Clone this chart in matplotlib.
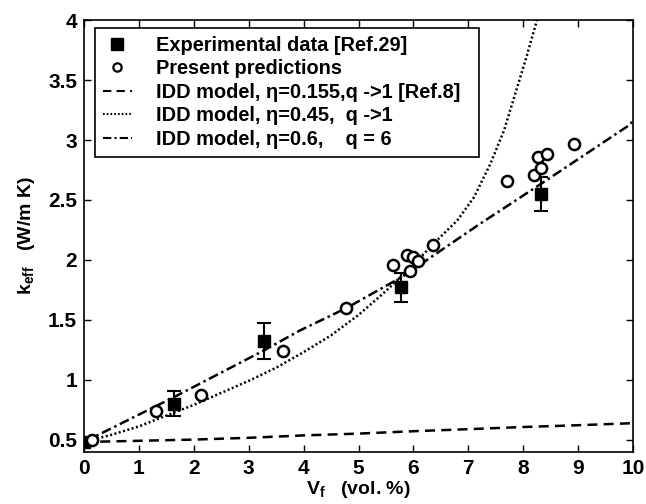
import numpy as np
import matplotlib
matplotlib.use("Agg")
import matplotlib.pyplot as plt
from matplotlib.lines import Line2D

plt.rcParams['font.family'] = ['Liberation Sans', 'DejaVu Sans']
plt.rcParams['font.weight'] = 'bold'
plt.rcParams['mathtext.default'] = 'regular'

# experimental data [Ref.29]
exp_x = [0.0, 1.64, 3.27, 5.78, 8.32]
exp_y = [0.48, 0.80, 1.32, 1.77, 2.55]
exp_err = [0.0, 0.105, 0.15, 0.12, 0.14]

# present predictions
pred_x = [0.15, 1.32, 2.14, 3.63, 4.78, 5.62, 5.89, 5.93, 5.99, 6.09, 6.35,
          7.70, 8.20, 8.32, 8.26, 8.43, 8.93]
pred_y = [0.50, 0.74, 0.87, 1.24, 1.60, 1.96, 2.04, 1.91, 2.02, 1.99, 2.12,
          2.66, 2.71, 2.77, 2.86, 2.88, 2.97]

# IDD model, eta=0.155, q->1
idd1_x = [0, 1, 2, 3, 4, 5, 6, 7, 8, 9, 10]
idd1_y = [0.48, 0.49, 0.50, 0.515, 0.535, 0.55, 0.57, 0.587, 0.605, 0.62, 0.637]

# IDD model, eta=0.45, q->1
idd2_x = [0, 0.5, 1, 1.5, 2, 2.5, 3, 3.5, 4, 4.5, 5, 5.5, 6, 6.4, 6.8,
          7.1, 7.4, 7.65, 7.85, 8.05, 8.25, 8.4]
idd2_y = [0.48, 0.54, 0.61, 0.70, 0.79, 0.89, 0.99, 1.10, 1.23, 1.37, 1.54,
          1.74, 1.96, 2.15, 2.33, 2.52, 2.80, 3.08, 3.38, 3.68, 4.0, 4.25]

# IDD model, eta=0.6, q=6
idd3_x = [0, 1.62, 3.26, 3.93, 4.79, 5.8, 7.21, 8.31, 9.95, 10]
idd3_y = [0.48, 0.85, 1.24, 1.41, 1.60, 1.86, 2.30, 2.63, 3.13, 3.17]

yticks = [0.5, 1, 1.5, 2, 2.5, 3, 3.5, 4]
ytick_labels = ["0.5", "1", "1.5", "2", "2.5", "3", "3.5", "4"]

labels = ['Experimental data [Ref.29]', 'Present predictions',
          'IDD model, η=0.155,q ->1 [Ref.8]  ', 'IDD model, η=0.45,  q ->1',
          'IDD model, η=0.6,    q = 6']

fig = plt.figure(figsize=(6.46, 5.04), dpi=100)
ax = fig.add_axes([0.130, 0.104, 0.850, 0.856])

ax.errorbar(exp_x, exp_y, yerr=exp_err, fmt='s', color='black',
            markersize=9, capsize=5, elinewidth=1.5, capthick=1.5, zorder=3)
ax.plot(pred_x, pred_y, 'o', mfc='white', mec='black', mew=1.8,
        markersize=8, zorder=4)
ax.plot(idd1_x, idd1_y, '--', color='black', lw=1.8, dashes=(4, 2.5))
ax.plot(idd2_x, idd2_y, color='black', lw=1.8, linestyle=(0, (0.8, 1.0)))
ax.plot(idd3_x, idd3_y, color='black', lw=1.8, linestyle=(0, (4, 1.5, 1, 1.5)))

ax.set_xlim(0, 10)
ax.set_ylim(0.4, 4)
ax.set_xticks(range(11))
ax.set_yticks(yticks)
ax.set_yticklabels(ytick_labels)
ax.tick_params(direction='in', top=True, right=True, length=5, width=1,
               labelsize=15, pad=5)
for s in ax.spines.values():
    s.set_linewidth(1.2)

ax.set_xlabel('V$_f$   (vol. %)', fontsize=14, fontweight='bold', labelpad=1)
ax.set_ylabel('k$_{eff}$   (W/m K)', fontsize=14, fontweight='bold', labelpad=8)

handles = [
    Line2D([], [], marker='s', ls='none', color='black', markersize=8),
    Line2D([], [], marker='o', ls='none', mfc='white', mec='black', mew=1.6,
           markersize=6),
    Line2D([], [], color='black', lw=1.5, dashes=(4, 2.5)),
    Line2D([], [], color='black', lw=1.5, linestyle=(0, (0.8, 1.0))),
    Line2D([], [], color='black', lw=1.5, linestyle=(0, (4, 1.5, 1, 1.5))),
]
leg = ax.legend(handles, labels, loc='upper left',
                bbox_to_anchor=(0.02, 0.982), borderaxespad=0,
                fancybox=False, edgecolor='black', framealpha=1,
                prop={'size': 14.4, 'weight': 'bold'}, handlelength=1.45,
                handletextpad=1.2, labelspacing=0.22, borderpad=0.4)
leg.get_frame().set_linewidth(1.2)

fig.savefig('out.png', dpi=100)
